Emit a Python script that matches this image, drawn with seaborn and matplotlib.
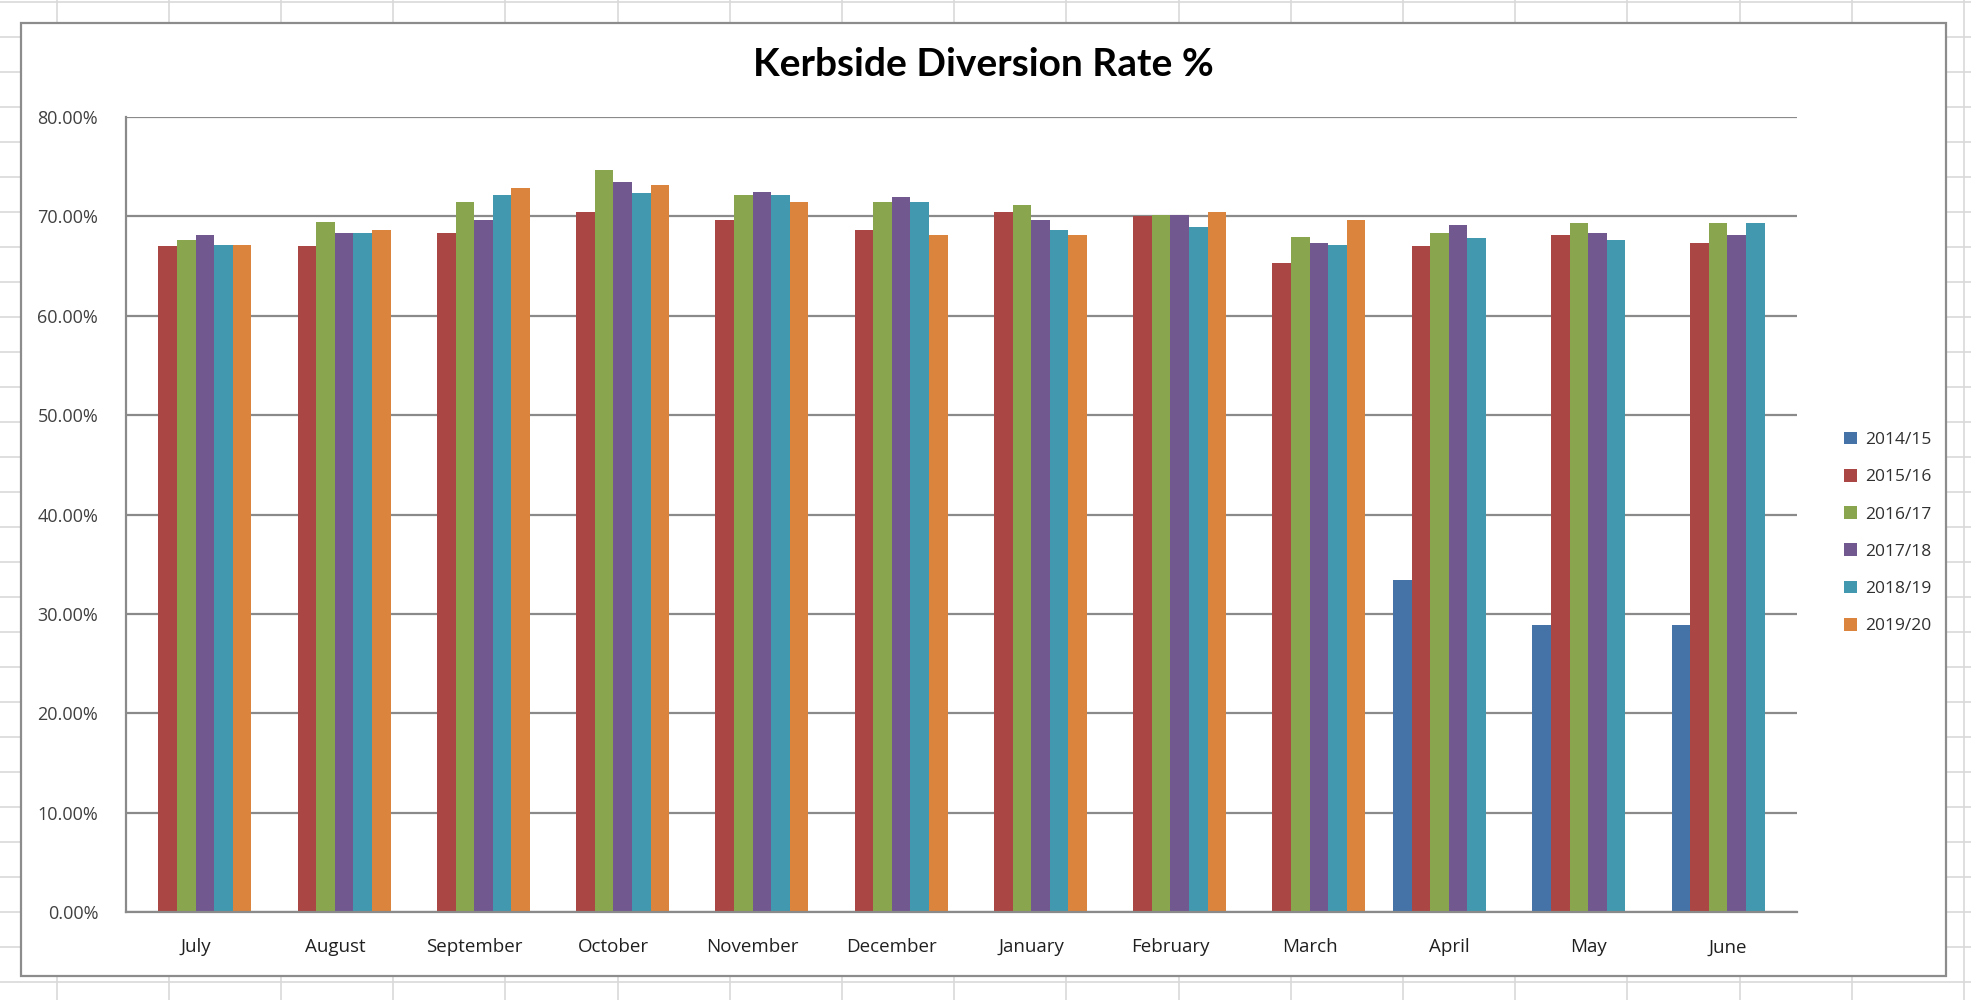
import numpy as np
import pandas as pd
import matplotlib
matplotlib.use("Agg")
import matplotlib.pyplot as plt
import matplotlib.patches as mpatches
from matplotlib.lines import Line2D
from matplotlib.ticker import FuncFormatter, MultipleLocator
import seaborn as sns

months = ["July", "August", "September", "October", "November", "December",
          "January", "February", "March", "April", "May", "June"]
years = ["2014/15", "2015/16", "2016/17", "2017/18", "2018/19", "2019/20"]

nan = np.nan
rate_2014_15 = [nan, nan, nan, nan, nan, nan, nan, nan, nan, 33.4, 28.9, 28.9]
rate_2015_16 = [67.0, 67.0, 68.3, 70.4, 69.6, 68.6, 70.4, 70.0, 65.3, 67.0, 68.1, 67.3]
rate_2016_17 = [67.6, 69.4, 71.4, 74.7, 72.2, 71.4, 71.1, 70.1, 67.9, 68.3, 69.3, 69.3]
rate_2017_18 = [68.1, 68.3, 69.6, 73.5, 72.5, 71.9, 69.6, 70.1, 67.3, 69.1, 68.3, 68.1]
rate_2018_19 = [67.1, 68.3, 72.2, 72.4, 72.2, 71.4, 68.6, 68.9, 67.1, 67.8, 67.6, 69.3]
rate_2019_20 = [67.1, 68.6, 72.9, 73.2, 71.4, 68.1, 68.1, 70.4, 69.6, nan, nan, nan]

series = [rate_2014_15, rate_2015_16, rate_2016_17, rate_2017_18, rate_2018_19, rate_2019_20]
colors = ["#4572A7", "#AA4643", "#89A54E", "#71588F", "#4198AF", "#DB843D"]

rows = []
for yr, vals in zip(years, series):
    for m, v in zip(months, vals):
        if not np.isnan(v):
            rows.append({"month": m, "year": yr, "rate": v})
df = pd.DataFrame(rows)

sns.set_style("white")
plt.rcParams['font.family'] = ['Open Sans', 'DejaVu Sans']

W, H = 1971, 1000
fig = plt.figure(figsize=(W / 100, H / 100), dpi=100)

# spreadsheet grid behind the chart object
for y in np.arange(2, H, 35.0):
    fig.add_artist(Line2D([0, 1], [1 - y / H, 1 - y / H], color="#d9d9d9", lw=1.2, zorder=0))
for x in np.arange(56.6, W, 112.2):
    fig.add_artist(Line2D([x / W, x / W], [0, 1], color="#d9d9d9", lw=1.2, zorder=0))

# chart frame
fx0, fy0, fx1, fy1 = 21, 23, 1946, 976
frame = mpatches.Rectangle((fx0 / W, 1 - fy1 / H), (fx1 - fx0) / W, (fy1 - fy0) / H,
                           transform=fig.transFigure, facecolor="white",
                           edgecolor="#8c8c8c", lw=1.6, zorder=1)
fig.add_artist(frame)

left, right, top, bottom = 126, 1797, 117, 912
ax = fig.add_axes([left / W, 1 - bottom / H, (right - left) / W, (bottom - top) / H], zorder=2)
ax.patch.set_alpha(0)

sns.barplot(data=df, x="month", y="rate", hue="year", order=months, hue_order=years,
            palette=colors, saturation=1, errorbar=None, width=0.8, linewidth=0,
            legend=False, ax=ax)

ax.set_ylim(0, 80)
ax.set_xlim(-0.5, len(months) - 0.5)
ax.yaxis.set_major_locator(MultipleLocator(10))
ax.yaxis.set_major_formatter(FuncFormatter(lambda v, p: f"{v:.2f}%"))
ax.yaxis.grid(True, color="#8a8a8a", lw=1.6)
ax.set_axisbelow(True)
ax.set_xlabel("")
ax.set_ylabel("")
for s in ["top", "right"]:
    ax.spines[s].set_visible(False)
for s in ["left", "bottom"]:
    ax.spines[s].set_color("#8a8a8a")
    ax.spines[s].set_linewidth(1.6)
ax.tick_params(axis="y", length=0, pad=20, labelsize=13, labelcolor="#404040")
ax.tick_params(axis="x", length=0, pad=19, labelsize=13.5, labelcolor="#202020")

fig.text((fx0 + fx1) / 2 / W, 1 - 64 / H, "Kerbside Diversion Rate %", ha="center", va="center",
         fontsize=28, fontweight="bold", color="black", family=["Lato", "DejaVu Sans"])

handles = [mpatches.Patch(facecolor=c, edgecolor="none") for c in colors]
fig.legend(handles, years, loc="center left", bbox_to_anchor=(1828 / W, 1 - 533 / H),
           frameon=False, fontsize=12.5, handlelength=0.75, handleheight=0.75,
           handletextpad=0.5, labelspacing=1.2, labelcolor="#303030")

fig.savefig("out.png", dpi=100)
